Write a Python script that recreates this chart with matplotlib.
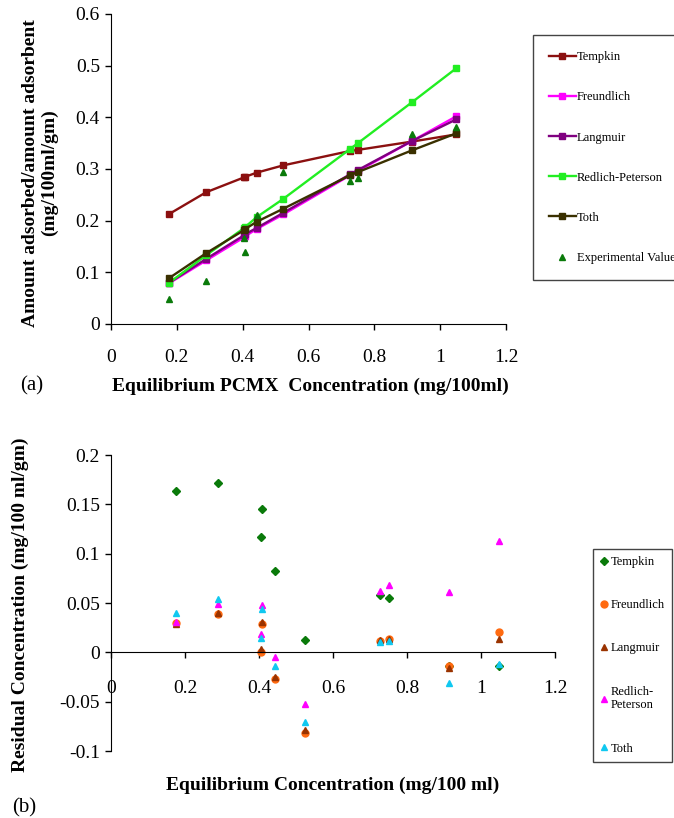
import numpy as np
import matplotlib
matplotlib.use('Agg')
import matplotlib.pyplot as plt

plt.rcParams['font.family'] = ['Liberation Serif', 'DejaVu Serif']

# equilibrium concentrations (mg/100ml)
conc = [0.177, 0.289, 0.405, 0.408, 0.443, 0.523, 0.727, 0.750, 0.914, 1.049]

# (a) fitted isotherms and experimental values
tempkin = [0.213, 0.255, 0.284, 0.285, 0.293, 0.307, 0.335, 0.337, 0.353, 0.367]
freundlich = [0.079, 0.123, 0.168, 0.170, 0.184, 0.212, 0.288, 0.296, 0.354, 0.402]
langmuir = [0.080, 0.126, 0.172, 0.174, 0.186, 0.215, 0.290, 0.298, 0.354, 0.396]
redlich = [0.080, 0.133, 0.186, 0.188, 0.207, 0.242, 0.339, 0.350, 0.429, 0.495]
toth = [0.089, 0.137, 0.182, 0.184, 0.198, 0.223, 0.288, 0.294, 0.336, 0.369]
experimental = [0.049, 0.083, 0.167, 0.140, 0.211, 0.294, 0.277, 0.282, 0.367, 0.381]

# (b) residuals
res_tempkin = [0.164, 0.172, 0.117, 0.145, 0.082, 0.0125, 0.058, 0.055, -0.0135, -0.014]
res_freundlich = [0.030, 0.039, 0.000, 0.029, -0.027, -0.082, 0.0115, 0.0135, -0.014, 0.021]
res_langmuir = [0.029, 0.040, 0.003, 0.031, -0.025, -0.079, 0.012, 0.014, -0.016, 0.014]
res_redlich = [0.031, 0.049, 0.019, 0.048, -0.005, -0.052, 0.062, 0.068, 0.061, 0.113]
res_toth = [0.040, 0.054, 0.015, 0.044, -0.014, -0.071, 0.010, 0.011, -0.031, -0.012]

x_ticks = [0, 0.2, 0.4, 0.6, 0.8, 1.0, 1.2]
x_ticklabels = ['0', '0.2', '0.4', '0.6', '0.8', '1', '1.2']
ya_ticks = [0, 0.1, 0.2, 0.3, 0.4, 0.5, 0.6]
ya_ticklabels = ['0', '0.1', '0.2', '0.3', '0.4', '0.5', '0.6']
yb_ticks = [-0.1, -0.05, 0, 0.05, 0.1, 0.15, 0.2]
yb_ticklabels = ['-0.1', '-0.05', '0', '0.05', '0.1', '0.15', '0.2']

W, H = 674, 818
fig = plt.figure(figsize=(W/100, H/100), dpi=100)

def px_axes(l, t, r, b):
    return fig.add_axes([l/W, 1 - b/H, (r - l)/W, (b - t)/H])

tick_fs = 14
lab_fs = 14

# ---------------- (a) ----------------
ax1 = px_axes(111, 14, 506, 324)
ax1.plot(conc, tempkin, '-s', color='#8b1010', lw=1.7, ms=4.5, label='Tempkin')
ax1.plot(conc, freundlich, '-s', color='#ff00ff', lw=1.7, ms=4.5, label='Freundlich')
ax1.plot(conc, langmuir, '-s', color='#800080', lw=1.7, ms=4.5, label='Langmuir')
ax1.plot(conc, redlich, '-s', color='#22ee22', lw=1.7, ms=4.5, label='Redlich-Peterson')
ax1.plot(conc, toth, '-s', color='#3a3000', lw=1.7, ms=4.5, label='Toth')
ax1.plot(conc, experimental, '^', color='#0a7a0a', ms=5, ls='none', label='Experimental Value')
ax1.set_xlim(0, 1.2)
ax1.set_ylim(0, 0.6)
ax1.set_xticks(x_ticks)
ax1.set_xticklabels(x_ticklabels)
ax1.set_yticks(ya_ticks)
ax1.set_yticklabels(ya_ticklabels)
ax1.spines['top'].set_visible(False)
ax1.spines['right'].set_visible(False)
ax1.tick_params(direction='out', length=4, width=1, labelsize=tick_fs, pad=14)
ax1.tick_params(axis='y', pad=4)
leg1 = ax1.legend(loc='upper left', bbox_to_anchor=(533/W, 1 - 35/H), bbox_transform=fig.transFigure,
                  fontsize=9, labelspacing=2.25, handlelength=2.1, handletextpad=0.1,
                  borderpad=1.3, borderaxespad=0, fancybox=False, framealpha=1, edgecolor='#444444')
leg1.get_frame().set_linewidth(1.0)
fig.text(310/W, 1 - 386/H, 'Equilibrium PCMX  Concentration (mg/100ml)', ha='center', va='center',
         fontsize=lab_fs, fontweight='bold')
fig.text(20/W, 1 - 386/H, '(a)', ha='left', va='center', fontsize=15)
fig.text(40/W, 1 - 173/H, 'Amount adsorbed/amount adsorbent\n(mg/100ml/gm)', ha='center', va='center',
         rotation=90, fontsize=lab_fs, fontweight='bold', linespacing=1.1)

# ---------------- (b) ----------------
ax2 = px_axes(111, 455, 555, 751)
ax2.plot(conc, res_tempkin, 'D', color='#0a7a0a', ms=4.5, ls='none', label='Tempkin')
ax2.plot(conc, res_freundlich, 'o', color='#ff6a10', ms=5, ls='none', label='Freundlich')
ax2.plot(conc, res_langmuir, '^', color='#9a3300', ms=5, ls='none', label='Langmuir')
ax2.plot(conc, res_redlich, '^', color='#ff00ff', ms=5, ls='none', label='Redlich-\nPeterson')
ax2.plot(conc, res_toth, '^', color='#10c8f0', ms=5, ls='none', label='Toth')
ax2.set_xlim(0, 1.2)
ax2.set_ylim(-0.1, 0.2)
ax2.set_xticks(x_ticks)
ax2.set_xticklabels(x_ticklabels)
ax2.set_yticks(yb_ticks)
ax2.set_yticklabels(yb_ticklabels)
ax2.spines['top'].set_visible(False)
ax2.spines['right'].set_visible(False)
ax2.spines['bottom'].set_position(('data', 0))
ax2.tick_params(direction='out', length=4, width=1, labelsize=tick_fs, pad=16)
ax2.tick_params(axis='y', pad=4)
leg2 = ax2.legend(loc='upper left', bbox_to_anchor=(593/W, 1 - 549/H), bbox_transform=fig.transFigure,
                  fontsize=9, labelspacing=2.5, handlelength=0.6, handletextpad=0.25,
                  borderpad=0.55, borderaxespad=0, fancybox=False, framealpha=1, edgecolor='#444444')
leg2.get_frame().set_linewidth(1.0)
fig.text(333/W, 1 - 785/H, 'Equilibrium Concentration (mg/100 ml)', ha='center', va='center',
         fontsize=lab_fs, fontweight='bold')
fig.text(12/W, 1 - 808/H, '(b)', ha='left', va='center', fontsize=15)
fig.text(20/W, 1 - 605/H, 'Residual Concentration (mg/100 ml/gm)', ha='center', va='center',
         rotation=90, fontsize=lab_fs, fontweight='bold')

fig.savefig('out.png', dpi=100)
